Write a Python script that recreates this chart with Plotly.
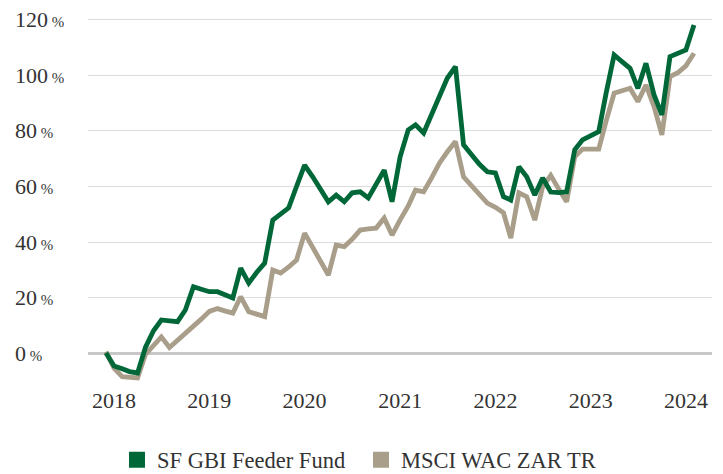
import pandas as pd
import plotly.graph_objects as go

# ---- data ----
dates = pd.date_range("2017-12-01", periods=75, freq="MS")

fund_name = "SF GBI Feeder Fund"
bench_name = "MSCI WAC ZAR TR"

fund = [0.0, -4.7, -5.7, -6.7, -7.2, 2.0, 8.0, 11.9, 11.6, 11.3,
        15.5, 23.9, 23.0, 22.1, 22.1, 21.0, 19.8, 30.6, 25.2, 29.0,
        32.4, 47.9, 50.0, 52.3, 60.0, 67.7, 63.5, 59.0, 54.5, 56.9,
        54.5, 57.7, 58.1, 55.9, 61.0, 65.9, 54.5, 70.7, 80.4, 82.2,
        79.3, 86.0, 92.5, 99.1, 103.2, 75.0, 71.5, 68.0, 65.3, 64.9,
        56.3, 55.1, 67.1, 63.5, 56.9, 63.1, 58.0, 57.8, 58.1, 73.2,
        76.8, 78.5, 79.8, 93.5, 107.4, 105.0, 102.6, 95.4, 104.4, 93.0,
        85.8, 106.8, 108.0, 109.2, 118.2]

bench = [0.5, -5.5, -8.5, -8.8, -9.0, -0.5, 3.0, 5.8, 2.0, 4.5,
         7.0, 9.5, 12.2, 15.0, 16.0, 15.2, 14.4, 20.3, 14.9, 14.0,
         13.1, 29.9, 28.8, 31.0, 33.5, 43.2, 38.0, 33.0, 28.1, 38.9,
         38.3, 41.0, 44.3, 44.7, 45.0, 48.6, 42.5, 48.0, 53.0, 58.7,
         58.1, 63.0, 68.5, 72.5, 76.2, 63.5, 60.5, 57.0, 54.0, 52.5,
         50.5, 41.4, 57.7, 56.3, 47.9, 59.9, 64.0, 59.0, 54.5, 70.7,
         73.5, 73.5, 73.5, 83.5, 93.6, 94.5, 95.4, 90.6, 96.6, 88.8,
         78.6, 99.6, 101.0, 103.5, 108.0]

y_ticks = [0, 20, 40, 60, 80, 100, 120]
y_tick_labels = [f"{v}" for v in y_ticks]
x_tick_start = "2018-01-01"

GREEN = "#006838"
TAUPE = "#A99E8A"
FONT = "Liberation Serif"
TEXT = "#333333"

fig = go.Figure()

fig.add_trace(go.Scatter(x=dates, y=bench, mode="lines", name=bench_name,
                         line=dict(color=TAUPE, width=4.8), showlegend=False,
                         hoverinfo="skip"))
fig.add_trace(go.Scatter(x=dates, y=fund, mode="lines", name=fund_name,
                         line=dict(color=GREEN, width=4.8), showlegend=False,
                         hoverinfo="skip"))

# legend-only entries with square swatches
for nm, col in [(fund_name, GREEN), (bench_name, TAUPE)]:
    fig.add_trace(go.Scatter(x=[None], y=[None], mode="markers", name=nm,
                             marker=dict(symbol="square", size=16, color=col)))

# left-aligned y tick labels
for v, lab in zip(y_ticks, y_tick_labels):
    fig.add_annotation(x=-0.1202, xref="paper", y=v, yref="y",
                       xanchor="left", yanchor="middle", showarrow=False,
                       text=f"{lab}<span style='font-size:15px'> %</span>",
                       font=dict(family=FONT, size=22, color=TEXT))

# the page has an 8px body margin, so the figure is 8px smaller each way
fig.update_layout(
    width=715, height=466,
    margin=dict(l=80, r=11, t=2, b=89, autoexpand=False),
    paper_bgcolor="white", plot_bgcolor="white",
    font=dict(family=FONT, size=22, color=TEXT),
    showlegend=True,
    legend=dict(orientation="h", xref="container", yref="container",
                x=0.4937, xanchor="center", y=1 - 452 / 466, yanchor="middle",
                traceorder="normal", entrywidth=199,
                font=dict(family=FONT, size=22.5, color=TEXT),
                itemclick=False, itemdoubleclick=False),
    xaxis=dict(type="date", range=["2017-09-23", "2024-04-10"],
               tick0=x_tick_start, dtick="M12", tickformat="%Y",
               showgrid=False, zeroline=False, showline=False, automargin=False,
               ticks="", tickfont=dict(family=FONT, size=22, color=TEXT)),
    yaxis=dict(range=[-11.53, 123.6], tickvals=y_ticks, showticklabels=False,
               showgrid=True, gridcolor="#dcdcdc", gridwidth=1.3, automargin=False,
               zeroline=True, zerolinecolor="#c8c8c8", zerolinewidth=3,
               showline=False, ticks=""),
)

fig.write_html("out.html")
